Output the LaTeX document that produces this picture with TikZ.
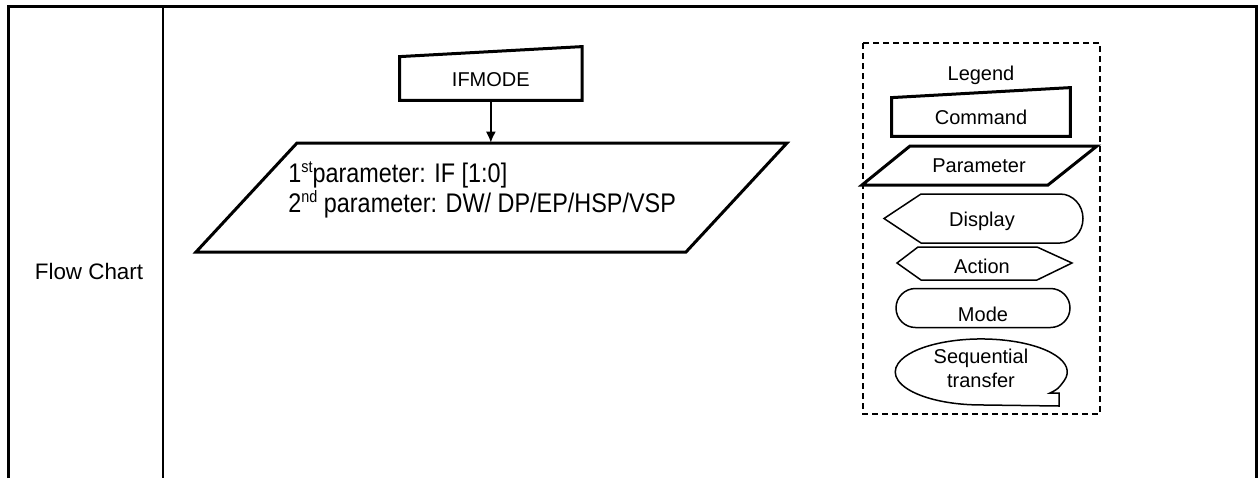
\documentclass[tikz,border=0pt]{standalone}
\usepackage{fontspec}
\usepackage{graphicx}
\setmainfont{Liberation Sans}
\usetikzlibrary{arrows.meta,calc}
\newcommand{\supx}[1]{\raisebox{4.4pt}{\fontsize{7.2}{8}\selectfont #1}}
\begin{document}
\begin{tikzpicture}[x=0.5pt,y=-0.5pt,
  frame/.style={line width=1.5pt},
  thickshape/.style={draw, line width=1.5pt, line join=miter},
  thinshape/.style={draw, line width=0.75pt},
  lbl/.style={font=\fontsize{10}{12}\selectfont, inner sep=0pt},
  bigl/.style={font=\fontsize{11.2}{11.2}\selectfont, inner sep=0pt},
  legbox/.style={draw, line width=0.75pt, dash pattern=on 3pt off 2pt},
  conn/.style={line width=0.75pt, -{Latex[length=5.5pt,width=5pt]}}
]
\useasboundingbox (0,0) rectangle (1259,478);
% table frame
\draw[frame] (8,478) -- (8,6) -- (1256,6) -- (1256,478);
\draw[line width=1pt] (163,6) -- (163,478);
\node[bigl] (fc) at (89,271) {Flow Chart};

% IFMODE command
\node[lbl, minimum width=90.85pt, minimum height=21.5pt, text depth=0pt] (ifmode) at (490.85,78.5) {\raisebox{-1pt}{IFMODE}};
\draw[thickshape] (ifmode.south west) -- (ifmode.south east) -- ([yshift=5pt]ifmode.north east) -- (ifmode.north west) -- cycle;

% parameter box
\node[minimum width=295.5pt, minimum height=54.5pt, inner sep=0pt] (param) at (491.5,197.5) {};
\draw[thickshape] (297,143) -- (787,143) -- (686,252) -- (196,252) -- cycle;
\node[inner sep=0pt, anchor=west] (ptext) at (288,191)
  {\scalebox{1}[1.15]{\fontsize{11.7}{10.9}\selectfont\begin{tabular}{@{}l@{}}1\supx{st}parameter: IF [1:0]\\2\supx{nd} parameter: DW/ DP/EP/HSP/VSP\end{tabular}}};
\draw[conn] (ifmode.south) -- (ifmode.south |- param.north);

% legend
\draw[legbox] (863,43) rectangle (1100,414);
\node[lbl] (legend) at (981,75) {Legend};

\node[lbl, minimum width=89pt, minimum height=19pt] (cmd) at (981,117) {Command};
\draw[thickshape] (cmd.south west) -- (cmd.south east) -- ([yshift=5pt]cmd.north east) -- (cmd.north west) -- cycle;

\node[lbl] (lpar) at (979,166) {Parameter};
\draw[thickshape] (910,146) -- (1097,146) -- (1048,185) -- (862,185) -- cycle;

\node[lbl] (disp) at (982,221) {Display};
\draw[thinshape] (884,218.5) -- (921,194) -- (1060,194) arc[start angle=-90, end angle=90, x radius=23, y radius=24.5] -- (921,243) -- cycle;

\node[lbl] (act) at (982,266) {Action};
\draw[thinshape] (897,263) -- (918,247) -- (1037,247) -- (1072,263) -- (1037,280) -- (921,280) -- cycle;

\node[lbl] (mode) at (983,314) {Mode};
\draw[thinshape, rounded corners=9.75pt] (896,288.5) rectangle (1070,327.5);

\node[lbl, align=center, font=\fontsize{10}{12}\selectfont] (seq) at (981,368) {Sequential\\transfer};
\draw[thinshape] (1064.3,380.5) arc[start angle=15, end angle=-270, x radius=86, y radius=33]
  -- (1059,406) -- (1059,393) -- (1050,393) .. controls (1058,389) .. cycle;
\end{tikzpicture}
\end{document}
